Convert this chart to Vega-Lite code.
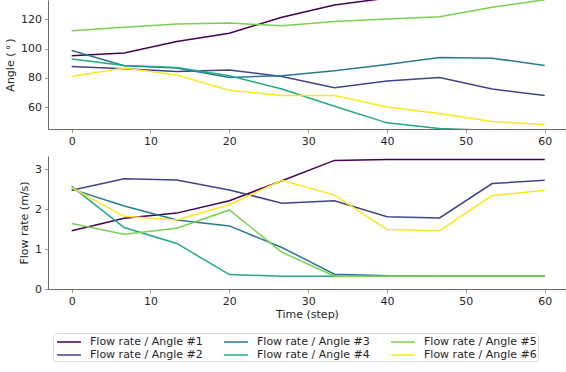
{
  "$schema": "https://vega.github.io/schema/vega-lite/v6.json",
  "padding": {"left": 4, "top": 0, "right": 0, "bottom": 0},
  "bounds": "flush",
  "spacing": 27,
  "config": {
    "font": "DejaVu Sans",
    "view": {"stroke": null},
    "axis": {
      "grid": false,
      "domainColor": "#6b6b6b",
      "domainWidth": 1,
      "tickColor": "#9a9a9a",
      "tickSize": 3.5,
      "labelFontSize": 11,
      "titleFontSize": 11,
      "labelColor": "#262626",
      "titleColor": "#262626",
      "titleFontWeight": "normal",
      "labelPadding": 3,
      "titlePadding": 5
    }
  },
  "data": {
    "values": [
      {"series": "Flow rate / Angle #1", "t": 0, "angle": 95.1, "flow": 1.46},
      {"series": "Flow rate / Angle #1", "t": 6.667, "angle": 97.0, "flow": 1.77},
      {"series": "Flow rate / Angle #1", "t": 13.333, "angle": 104.9, "flow": 1.90},
      {"series": "Flow rate / Angle #1", "t": 20, "angle": 110.6, "flow": 2.21},
      {"series": "Flow rate / Angle #1", "t": 26.667, "angle": 121.5, "flow": 2.71},
      {"series": "Flow rate / Angle #1", "t": 33.333, "angle": 129.9, "flow": 3.22},
      {"series": "Flow rate / Angle #1", "t": 40, "angle": 134.6, "flow": 3.24},
      {"series": "Flow rate / Angle #1", "t": 46.667, "angle": 137.0, "flow": 3.24},
      {"series": "Flow rate / Angle #1", "t": 53.333, "angle": 138.0, "flow": 3.24},
      {"series": "Flow rate / Angle #1", "t": 60, "angle": 139.0, "flow": 3.24},
      {"series": "Flow rate / Angle #2", "t": 0, "angle": 87.8, "flow": 2.47},
      {"series": "Flow rate / Angle #2", "t": 6.667, "angle": 86.3, "flow": 2.76},
      {"series": "Flow rate / Angle #2", "t": 13.333, "angle": 84.4, "flow": 2.73},
      {"series": "Flow rate / Angle #2", "t": 20, "angle": 85.3, "flow": 2.48},
      {"series": "Flow rate / Angle #2", "t": 26.667, "angle": 81.0, "flow": 2.15},
      {"series": "Flow rate / Angle #2", "t": 33.333, "angle": 73.3, "flow": 2.21},
      {"series": "Flow rate / Angle #2", "t": 40, "angle": 77.8, "flow": 1.81},
      {"series": "Flow rate / Angle #2", "t": 46.667, "angle": 80.3, "flow": 1.78},
      {"series": "Flow rate / Angle #2", "t": 53.333, "angle": 72.4, "flow": 2.64},
      {"series": "Flow rate / Angle #2", "t": 60, "angle": 67.9, "flow": 2.72},
      {"series": "Flow rate / Angle #3", "t": 0, "angle": 98.7, "flow": 2.50},
      {"series": "Flow rate / Angle #3", "t": 6.667, "angle": 88.3, "flow": 2.08},
      {"series": "Flow rate / Angle #3", "t": 13.333, "angle": 86.7, "flow": 1.73},
      {"series": "Flow rate / Angle #3", "t": 20, "angle": 80.3, "flow": 1.58},
      {"series": "Flow rate / Angle #3", "t": 26.667, "angle": 81.5, "flow": 1.04},
      {"series": "Flow rate / Angle #3", "t": 33.333, "angle": 84.9, "flow": 0.37},
      {"series": "Flow rate / Angle #3", "t": 40, "angle": 89.2, "flow": 0.33},
      {"series": "Flow rate / Angle #3", "t": 46.667, "angle": 94.0, "flow": 0.32},
      {"series": "Flow rate / Angle #3", "t": 53.333, "angle": 93.5, "flow": 0.32},
      {"series": "Flow rate / Angle #3", "t": 60, "angle": 88.5, "flow": 0.32},
      {"series": "Flow rate / Angle #4", "t": 0, "angle": 92.9, "flow": 2.57},
      {"series": "Flow rate / Angle #4", "t": 6.667, "angle": 88.5, "flow": 1.54},
      {"series": "Flow rate / Angle #4", "t": 13.333, "angle": 87.1, "flow": 1.14},
      {"series": "Flow rate / Angle #4", "t": 20, "angle": 81.5, "flow": 0.36},
      {"series": "Flow rate / Angle #4", "t": 26.667, "angle": 72.4, "flow": 0.32},
      {"series": "Flow rate / Angle #4", "t": 33.333, "angle": 60.6, "flow": 0.32},
      {"series": "Flow rate / Angle #4", "t": 40, "angle": 49.2, "flow": 0.32},
      {"series": "Flow rate / Angle #4", "t": 46.667, "angle": 45.3, "flow": 0.32},
      {"series": "Flow rate / Angle #4", "t": 53.333, "angle": 44.0, "flow": 0.32},
      {"series": "Flow rate / Angle #4", "t": 60, "angle": 43.5, "flow": 0.32},
      {"series": "Flow rate / Angle #5", "t": 0, "angle": 112.2, "flow": 1.64},
      {"series": "Flow rate / Angle #5", "t": 6.667, "angle": 114.7, "flow": 1.37},
      {"series": "Flow rate / Angle #5", "t": 13.333, "angle": 116.9, "flow": 1.52},
      {"series": "Flow rate / Angle #5", "t": 20, "angle": 117.6, "flow": 1.98},
      {"series": "Flow rate / Angle #5", "t": 26.667, "angle": 115.6, "flow": 0.92},
      {"series": "Flow rate / Angle #5", "t": 33.333, "angle": 118.5, "flow": 0.32},
      {"series": "Flow rate / Angle #5", "t": 40, "angle": 120.3, "flow": 0.32},
      {"series": "Flow rate / Angle #5", "t": 46.667, "angle": 121.9, "flow": 0.32},
      {"series": "Flow rate / Angle #5", "t": 53.333, "angle": 128.3, "flow": 0.32},
      {"series": "Flow rate / Angle #5", "t": 60, "angle": 133.5, "flow": 0.32},
      {"series": "Flow rate / Angle #6", "t": 0, "angle": 81.0, "flow": 2.54},
      {"series": "Flow rate / Angle #6", "t": 6.667, "angle": 86.7, "flow": 1.82},
      {"series": "Flow rate / Angle #6", "t": 13.333, "angle": 82.0, "flow": 1.73},
      {"series": "Flow rate / Angle #6", "t": 20, "angle": 71.5, "flow": 2.11},
      {"series": "Flow rate / Angle #6", "t": 26.667, "angle": 68.0, "flow": 2.72},
      {"series": "Flow rate / Angle #6", "t": 33.333, "angle": 68.0, "flow": 2.35},
      {"series": "Flow rate / Angle #6", "t": 40, "angle": 60.1, "flow": 1.49},
      {"series": "Flow rate / Angle #6", "t": 46.667, "angle": 55.6, "flow": 1.46},
      {"series": "Flow rate / Angle #6", "t": 53.333, "angle": 50.1, "flow": 2.34},
      {"series": "Flow rate / Angle #6", "t": 60, "angle": 48.1, "flow": 2.47}
    ]
  },
  "vconcat": [
    {
      "width": 518,
      "height": 129,
      "mark": {"type": "line", "strokeWidth": 1.5, "clip": true},
      "encoding": {
        "x": {"field": "t", "type": "quantitative", "scale": {"domain": [-3, 62.7], "nice": false, "zero": false}, "axis": {"values": [0, 10, 20, 30, 40, 50, 60], "title": null}},
        "y": {"field": "angle", "type": "quantitative", "scale": {"domain": [45, 133.3], "nice": false, "zero": false}, "axis": {"values": [60, 80, 100, 120], "title": "Angle (\u2009°\u2009)"}},
        "color": {
          "field": "series", "type": "nominal",
          "scale": {
            "domain": ["Flow rate / Angle #1", "Flow rate / Angle #2", "Flow rate / Angle #3", "Flow rate / Angle #4", "Flow rate / Angle #5", "Flow rate / Angle #6"],
            "range": ["#440154", "#414487", "#2a788e", "#22a884", "#7ad151", "#fde725"]
          },
          "legend": {
            "orient": "none", "legendX": 5, "legendY": 333,
            "columns": 3, "title": null,
            "symbolType": "M-1.714,0H1.714", "symbolStrokeWidth": 1.5, "symbolSize": 196,
            "symbolOffset": 7,
            "labelFontSize": 11, "labelColor": "#262626", "labelOffset": 13, "labelLimit": 300,
            "columnPadding": 18, "rowPadding": 0,
            "strokeColor": "#d9d9d9", "fillColor": "#ffffff", "cornerRadius": 3, "padding": 1
          }
        }
      }
    },
    {
      "width": 518,
      "height": 133,
      "mark": {"type": "line", "strokeWidth": 1.5, "clip": true},
      "encoding": {
        "x": {"field": "t", "type": "quantitative", "scale": {"domain": [-3, 62.7], "nice": false, "zero": false}, "axis": {"values": [0, 10, 20, 30, 40, 50, 60], "title": "Time (step)", "titlePadding": 2}},
        "y": {"field": "flow", "type": "quantitative", "scale": {"domain": [0, 3.33], "nice": false, "zero": false}, "axis": {"values": [0, 1, 2, 3], "title": "Flow rate (m/s)"}},
        "color": {"field": "series", "type": "nominal"}
      }
    }
  ]
}
